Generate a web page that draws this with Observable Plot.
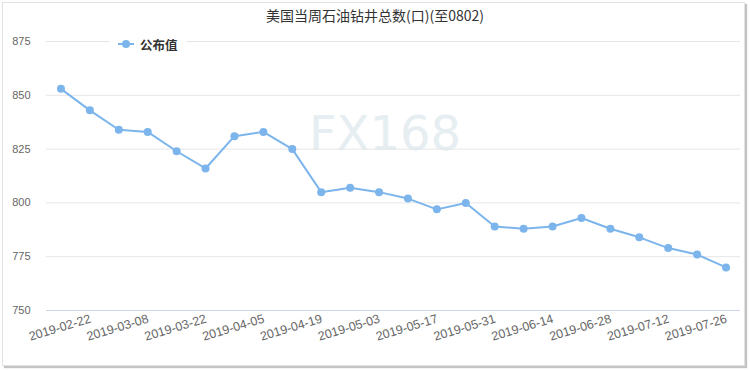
<!DOCTYPE html>
<html>
<head>
<meta charset="utf-8">
<script src="https://cdn.jsdelivr.net/npm/d3@7"></script>
<script src="https://cdn.jsdelivr.net/npm/@observablehq/plot@0.6"></script>
<style>
  body { margin: 0; background: #fff; }
  #wrap { position: relative; width: 750px; height: 370px; overflow: hidden; }
  #frame { position: absolute; left: 2px; top: 2px; width: 741px; height: 362px;
           border: 1px solid #e2e2e2; box-shadow: 2px 2px 1px #c4c4c4; }
  #chart { position: absolute; left: 0; top: 0; }
  #title { position: absolute; left: 0; top: 6px; width: 750px; text-align: center;
           font: 14px/18px "Noto Sans CJK SC", sans-serif; color: #333; }
  #watermark { position: absolute; left: 309px; top: 109px;
               font: 48px/48px "DejaVu Sans", sans-serif; color: #e6eef2; }
  #legend { position: absolute; left: 110px; top: 35px; height: 18px; padding: 0 8px 0 8px;
            background: #fff; display: flex; align-items: center;
            font: bold 12.5px "Noto Sans CJK SC", sans-serif; color: #333; }
  #legend svg { margin-right: 6px; }
</style>
</head>
<body>
<div id="wrap">
  <div id="frame"></div>
  <div id="watermark">FX168</div>
  <div id="chart"></div>
  <div id="title">美国当周石油钻井总数(口)(至0802)</div>
  <div id="legend"><svg width="16" height="10"><line x1="0" y1="5" x2="16" y2="5" stroke="#7cb5ec" stroke-width="2"/><circle cx="8" cy="5" r="4" fill="#7cb5ec"/></svg><span>公布值</span></div>
</div>
<script>
const dates = ["2019-02-22","2019-03-01","2019-03-08","2019-03-15","2019-03-22","2019-03-29",
  "2019-04-05","2019-04-12","2019-04-19","2019-04-26","2019-05-03","2019-05-10",
  "2019-05-17","2019-05-24","2019-05-31","2019-06-07","2019-06-14","2019-06-21",
  "2019-06-28","2019-07-05","2019-07-12","2019-07-19","2019-07-26","2019-08-02"];
const values = [853,843,834,833,824,816,831,833,825,805,807,805,802,797,800,789,788,789,793,788,784,779,776,770];
const tickLabels = ["2019-02-22","2019-03-08","2019-03-22","2019-04-05","2019-04-19","2019-05-03",
  "2019-05-17","2019-05-31","2019-06-14","2019-06-28","2019-07-12","2019-07-26"];
const yTicks = [750,775,800,825,850,875];

const parse = d3.utcParse("%Y-%m-%d");
const data = dates.map((d, i) => ({date: parse(d), value: values[i]}));
const halfWeek = 3.5 * 24 * 3600 * 1000;
const xDomain = [new Date(+parse(dates[0]) - halfWeek), new Date(+parse(dates[dates.length - 1]) + halfWeek)];

const chart = Plot.plot({
  width: 750,
  height: 370,
  marginLeft: 46,
  marginRight: 10,
  marginTop: 41,
  marginBottom: 60,
  style: {fontFamily: "'Liberation Sans', Arial, sans-serif", background: "transparent"},
  x: {type: "utc", domain: xDomain, axis: null},
  y: {domain: [750, 875], ticks: yTicks, axis: null},
  marks: [
    Plot.ruleY(yTicks.filter(t => t !== 750), {stroke: "#e6e6e6", strokeWidth: 1}),
    Plot.ruleY([750], {stroke: "#ccd6eb", strokeWidth: 1}),
    Plot.axisY({ticks: yTicks, tickSize: 0, tickPadding: 16, fontSize: 11, fill: "#666", label: null}),
    Plot.text(tickLabels, {x: d => parse(d), text: d => d, frameAnchor: "bottom", dy: 21, rotate: -17,
      textAnchor: "middle", fontSize: 12.5, fill: "#666"}),
    Plot.line(data, {x: "date", y: "value", stroke: "#7cb5ec", strokeWidth: 2}),
    Plot.dot(data, {x: "date", y: "value", r: 4, fill: "#7cb5ec", stroke: "none"})
  ]
});
document.getElementById("chart").appendChild(chart);
</script>
</body>
</html>
